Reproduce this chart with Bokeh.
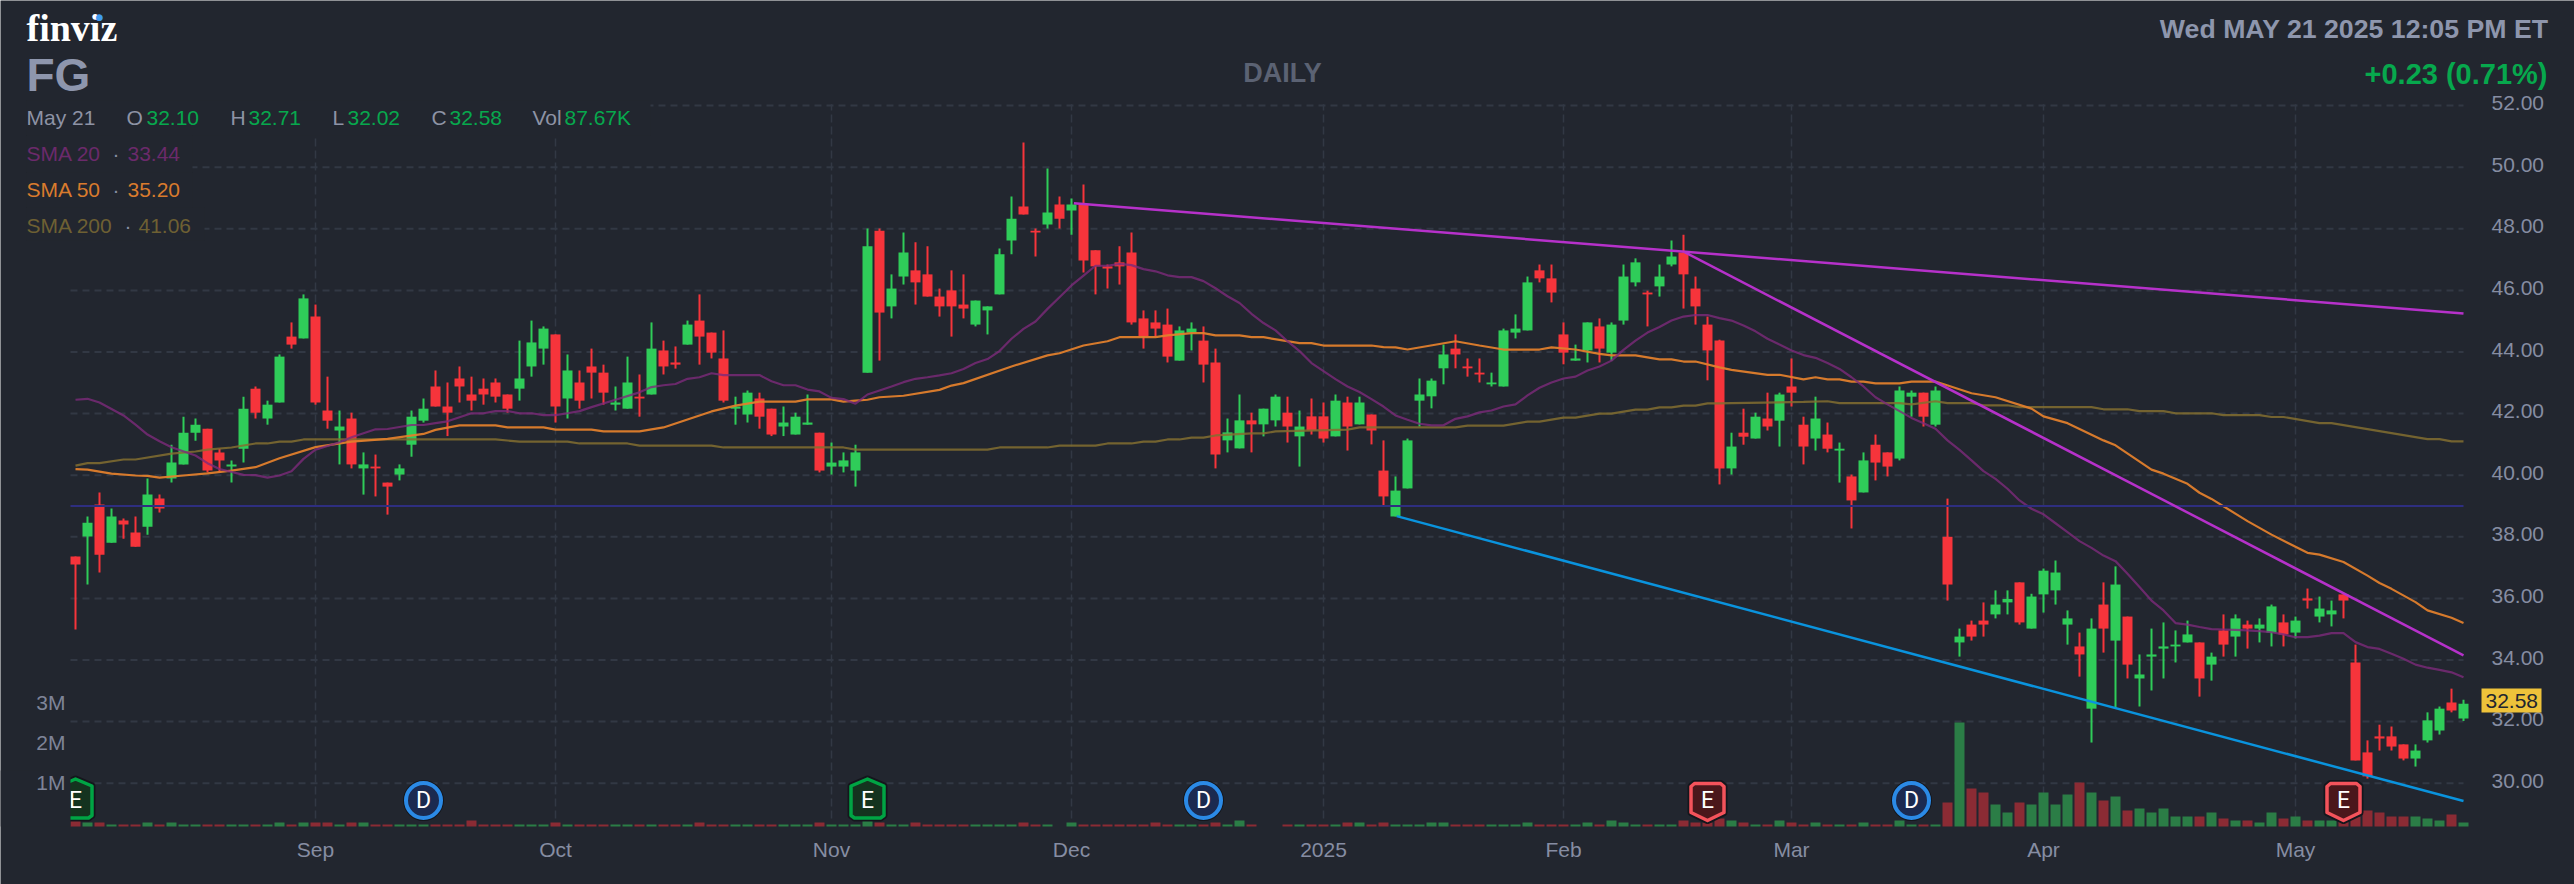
from bokeh.plotting import figure
from bokeh.embed import file_html
from bokeh.resources import INLINE
from bokeh.core.properties import value
from bokeh.models import ColumnDataSource, Range1d, FixedTicker, Label, BoxAnnotation, LinearAxis

highs = [37.36,38.66,39.44,38.92,38.59,38.66,39.89,39.37,40.99,41.90,
41.84,41.51,40.86,40.48,42.55,42.88,42.42,43.92,44.96,45.87,
45.54,43.2,42.10,42.03,40.74,40.67,39.76,40.35,42.10,42.49,
43.40,43.01,43.53,43.2,43.14,43.14,42.62,44.37,45.02,44.83,
44.57,43.92,43.40,44.11,43.59,42.88,43.85,43.27,44.96,44.37,
44.18,45.02,45.87,44.63,44.70,42.55,42.75,42.68,42.16,42.23,
42.03,42.62,41.38,41.06,40.74,40.99,48.01,48.01,46.52,47.88,
47.56,47.43,46.06,46.65,46.52,45.67,45.48,47.36,49.05,50.80,
48.01,49.96,49.05,48.98,49.44,47.3,46.84,47.43,47.88,45.35,
45.35,45.41,44.83,44.96,44.83,44.11,41.84,42.62,42.03,42.16,
42.62,42.55,42.1,42.49,42.36,42.62,42.55,42.55,41.97,41.13,
39.96,41.19,43.14,43.14,44.24,44.57,43.79,43.79,43.33,44.76,
45.22,46.45,46.84,46.84,44.96,44.24,44.96,45.09,44.96,46.84,
47.04,45.99,46.84,47.62,47.81,46.45,45.15,44.4,41.38,42.16,
42.03,42.68,42.68,43.79,41.9,42.55,41.71,41.06,40.02,40.74,
41.32,40.74,42.88,42.75,42.68,42.88,39.24,35.02,35.28,35.87,
36.26,36.26,36.52,36.15,36.97,37.23,35.61,34.89,35.35,36.52,
37.04,35.41,34.18,35.02,35.22,34.96,35.28,34.57,34.24,35.48,
35.48,35.28,35.35,35.8,35.48,35.41,36.32,36.06,35.93,36.13,
34.5,31.39,31.9,31.84,31.26,31.26,32.3,32.49,33.07,32.71]

lows = [34.99,36.45,36.84,37.81,37.94,37.68,38.07,38.79,39.76,40.35,
41.12,40.09,40.09,39.76,40.41,41.84,41.64,42.36,44.11,44.44,
42.29,41.51,40.35,40.22,39.37,39.31,38.72,39.83,40.6,41.71,
42.23,41.27,42.36,42.10,42.29,42.36,42.03,42.42,43.2,43.59,
41.71,41.84,42.16,42.49,42.29,42.10,42.16,41.90,42.62,43.27,
43.46,44.24,43.59,43.79,42.36,41.64,41.71,41.51,41.27,41.27,
41.32,41.64,40.09,40.02,40.09,39.63,43.33,43.72,45.09,46.19,
45.54,45.8,45.15,44.5,45.09,44.83,44.57,45.87,47.17,48.46,
47.1,48.01,48.01,47.81,46.58,45.87,46.06,46.19,44.89,44.11,
44.5,43.66,43.72,44.05,43.01,40.22,40.74,40.87,40.74,41.26,
41.58,41.06,40.28,41.32,41.06,41.26,40.8,41.65,41.0,38.98,
38.66,39.57,41.58,42.17,42.95,43.47,43.2,43.01,42.88,42.88,
44.44,44.7,46.26,45.61,43.6,43.72,43.66,43.66,43.72,44.89,
46.13,44.83,45.8,46.78,45.41,44.89,43.08,39.7,40.02,40.99,
41.19,41.45,40.93,42.23,40.35,40.8,40.74,39.76,38.27,39.44,
39.83,39.96,40.48,41.9,41.58,41.58,35.93,34.11,34.63,34.76,
35.35,35.48,35.15,35.02,35.54,35.8,34.5,33.46,31.32,34.24,
32.42,33.4,32.49,33.01,33.4,33.92,34.57,32.81,33.33,34.11,
34.11,34.37,34.57,34.44,34.44,34.7,35.67,35.22,35.09,35.35,
30.74,30.15,31.06,31.06,30.74,30.54,31.32,31.58,32.3,32.02]

body_tops = [37.36,38.46,39.05,38.66,38.53,38.14,39.37,39.24,40.41,41.38,
41.64,41.51,40.74,40.35,42.16,42.81,42.29,43.85,44.50,45.74,
45.15,42.10,41.58,41.84,40.35,40.28,39.76,40.22,41.90,42.16,
42.88,42.23,43.14,42.62,42.81,43.01,42.62,43.14,44.31,44.76,
44.57,43.40,43.01,43.53,43.33,42.36,43.01,42.55,44.11,44.05,
43.66,44.89,45.02,44.63,43.79,42.23,42.68,42.49,42.16,41.71,
41.90,41.71,41.38,40.41,40.48,40.74,47.43,47.94,46.06,47.23,
46.65,46.52,45.8,46.0,45.54,45.67,45.48,47.17,48.33,48.72,
47.94,48.53,48.79,48.79,48.79,47.3,46.78,46.91,47.23,45.09,
44.96,44.89,44.70,44.76,44.37,43.66,41.39,41.78,41.78,42.16,
42.55,42.03,41.58,41.91,41.91,42.42,42.36,42.36,41.97,40.15,
39.5,41.13,42.62,43.07,43.92,44.11,43.53,43.33,43.01,44.7,
44.76,46.26,46.65,46.39,44.57,43.79,44.96,44.83,44.89,46.45,
46.91,45.93,46.45,47.1,47.23,46.06,44.89,44.37,40.93,41.38,
41.9,41.84,42.62,42.88,41.64,41.84,41.32,40.86,39.96,40.48,
40.99,40.74,42.75,42.68,42.68,42.75,38.0,34.76,35.15,35.28,
35.8,35.98,36.52,36.06,36.9,36.84,35.35,34.44,35.02,35.8,
36.45,35.41,33.53,34.18,34.44,34.5,34.83,34.57,34.11,34.96,
35.35,35.15,35.15,35.74,35.22,35.28,36.0,35.67,35.61,36.13,
33.92,31.0,31.52,31.52,31.26,31.06,32.04,32.42,32.62,32.58]

body_bottoms = [37.10,38.01,37.42,37.81,38.40,37.68,38.33,38.92,39.89,40.35,
41.38,40.15,40.48,40.28,40.86,42.03,41.84,42.36,44.24,44.44,
42.36,41.77,41.45,40.35,40.22,40.22,39.63,40.02,40.99,41.77,
42.23,42.03,42.88,42.42,42.62,42.55,42.16,42.81,43.53,44.11,
42.23,42.49,42.42,43.33,42.68,42.29,42.16,42.49,42.62,43.53,
43.59,44.24,44.5,43.98,42.42,42.16,41.97,41.90,41.32,41.58,
41.32,41.64,40.15,40.28,40.28,40.15,43.33,45.28,45.48,46.45,
46.26,45.8,45.48,45.48,45.41,44.89,45.35,45.87,47.62,48.46,
47.88,48.14,48.33,48.59,46.97,46.78,46.71,46.78,44.96,44.5,
44.76,43.85,43.72,44.63,43.59,40.67,41.13,40.87,41.65,41.65,
41.78,41.58,41.26,41.45,41.19,41.26,41.58,41.65,41.45,39.31,
38.66,39.57,42.42,42.56,43.47,43.92,43.47,43.27,42.95,42.88,
44.63,44.7,46.39,45.93,43.98,43.72,44.05,44.11,43.98,45.02,
46.26,45.87,46.13,46.84,46.52,45.48,44.05,40.22,40.22,41.25,
41.19,41.58,41.77,42.68,40.93,41.19,40.86,40.8,39.18,39.44,
40.41,40.28,40.54,42.55,41.9,41.64,36.45,34.57,34.76,35.15,
35.48,35.87,35.22,35.02,36.13,36.26,35.15,34.18,32.42,35.02,
34.63,33.85,33.4,34.11,34.37,34.44,34.57,33.4,33.85,34.5,
34.76,35.02,35.02,34.89,34.83,34.89,35.93,35.41,35.48,35.93,
30.74,30.22,31.45,31.19,30.8,30.8,31.39,31.71,32.36,32.1]

direction = ("RGRGRRGRGGGRRGGRGGRG" "RRGRGRRGGGRRRRRRRGGG" "RGRRRGGRGRRGRRRGGRRG" "GGRGGGGRGGRRRRRGGGGR"
             "RGRGRRRRRRRRGGRRGGRG" "GRGRRGRGRRGGGGGRRRGG" "GGRRRGGRGGGRGGRRRRGR" "GRGRRGRGRGRRGGRGRGRR"
             "GGRGGGGRGRGRGGGGGRGR" "GRGGRGRGGRRRRRRGGGRG")

# volume in millions of shares
volumes = [.15,.1,.1,.05,.05,.05,.1,.05,.1,.05,
.05,.05,.05,.05,.05,.05,.05,.1,.05,.1,
.1,.1,.05,.1,.1,.05,.05,.05,.05,.05,
.05,.05,.05,.15,.05,.05,.05,.05,.05,.05,
.1,.05,.05,.05,.05,.05,.05,.05,.05,.05,
.05,.05,.1,.05,.05,.05,.05,.05,.05,.05,
.05,.05,.1,.05,.05,.05,.15,.1,.05,.05,
.1,.05,.05,.05,.05,.05,.05,.05,.05,.1,
.05,.05,0,.1,.05,.05,.05,.05,.05,.05,
.1,.05,.05,.05,.05,.1,.05,.15,.05,0,
0,.05,.05,.05,.05,.05,.1,.1,.05,.1,
.05,.05,.05,.1,.1,.05,.05,.05,.05,.05,
.05,.1,.05,.05,.05,.05,.1,.05,.15,.1,
.05,.05,.05,.05,.15,.1,.1,.2,.15,.1,
.05,.05,.15,.1,.05,.1,.05,.05,.05,.1,
.05,.05,.15,.05,.05,.05,.6,2.6,.95,.85,
.55,.35,.6,.55,.85,.55,.8,1.1,.85,.65,
.75,.4,.45,.35,.45,.25,.25,.25,.35,.2,
.15,.15,.1,.35,.2,.25,.15,.15,.15,.15,
.25,.4,.35,.25,.25,.25,.2,.15,.3,.1]

sma20_x = [0,1,2,4,5,6,7,8,10,11,12,14,15,16,17,18,19,20,21,22,23,24,25,26,28,29,30,31,33,34,35,36,37,38,39,40,41,42,43,45,47,48,49,50,51,52,53,54,57,58,59,60,61,62,63,64,65,
66,68,69,70,71,72,73,74,75,76,77,78,79,80,81,82,83,84,85,86,87,88,89,90,91,92,93,94,95,96,97,98,99,100,101,102,103,104,105,106,107,108,109,
110,111,112,113,114,115,116,117,118,119,120,121,122,123,124,125,126,127,128,129,130,131,132,133,134,135,136,137,
138,139,140,141,142,143,144,145,146,147,148,149,150,151,152,153,154,155,156,157,158,159,160,161,162,163,164,165,166,167,168,169,170,171,172,173,
174,175,176,177,178,179,180,181,182,183,184,185,186,187,188,189,190,191,192,193,194,195,196,197,198,199]
sma20_y = [42.45,42.48,42.36,41.94,41.64,41.32,41.10,40.91,40.64,40.39,40.20,40.01,40.0,39.92,39.99,40.13,40.53,40.83,40.95,41.07,41.23,41.36,41.49,41.5,41.63,41.63,41.69,41.75,42.01,42.01,42.08,42.08,42.01,42.01,41.95,41.95,42.01,42.08,42.21,42.45,42.69,42.86,42.92,42.96,43.13,43.18,43.31,43.25,43.25,43.05,42.92,42.92,42.78,42.72,42.51,42.47,42.32,
42.62,42.88,43.02,43.13,43.18,43.24,43.31,43.45,43.64,43.77,44.03,44.43,44.75,44.99,45.40,45.78,46.16,46.48,46.8,46.8,46.86,46.82,46.69,46.62,46.49,46.43,46.43,46.3,46.07,45.81,45.59,45.24,44.94,44.7,44.35,44.03,43.64,43.38,43.12,42.88,42.7,42.47,42.23,
41.94,41.8,41.67,41.62,41.62,41.83,41.91,42.04,42.1,42.23,42.3,42.59,42.84,43.01,43.14,43.2,43.4,43.53,43.72,44.07,44.37,44.63,44.81,45.02,45.15,45.2,45.2,45.1,
45.02,44.86,44.67,44.43,44.24,44.05,43.9,43.81,43.64,43.45,43.18,42.88,42.53,42.3,42.08,41.86,41.69,41.51,41.13,40.82,40.48,40.13,39.88,39.56,39.18,38.91,38.73,38.44,38.15,37.86,37.64,37.39,37.21,36.8,36.37,35.93,
35.61,35.2,35.15,35.07,35.0,34.99,34.98,34.96,34.94,34.9,34.83,34.74,34.74,34.79,34.87,34.87,34.58,34.42,34.36,34.2,34.04,33.85,33.75,33.68,33.6,33.44]

sma50_x = [0,1,3,5,6,7,9,11,13,15,17,20,23,26,29,30,32,35,36,39,40,43,44,47,49,53,55,57,60,61,63,64,65,
66,67,69,72,73,74,78,81,82,84,86,87,90,91,93,94,95,97,98,99,102,103,104,108,109,
110,111,115,117,119,122,123,125,127,128,130,132,133,134,135,137,
138,141,142,144,145,146,147,148,149,150,152,153,155,158,160,163,164,166,169,170,173,174,176,177,178,181,182,183,186,187,189,191,192,193,195,196,198,199]
sma50_y = [40.2,40.18,40.05,39.99,39.98,39.92,39.99,40.06,40.15,40.26,40.55,40.91,41.09,41.18,41.34,41.47,41.62,41.62,41.55,41.55,41.48,41.48,41.42,41.42,41.55,42.07,42.26,42.39,42.39,42.46,42.46,42.39,42.42,
42.45,42.53,42.58,42.77,42.91,42.99,43.53,43.89,43.96,44.21,44.35,44.48,44.48,44.54,44.61,44.61,44.54,44.54,44.48,44.48,44.29,44.29,44.21,44.21,44.16,
44.15,44.08,44.35,44.21,44.08,44.08,44.15,44.08,43.94,43.89,43.89,43.76,43.76,43.69,43.69,43.5,
43.42,43.26,43.26,43.11,43.18,43.11,43.11,43.04,43.04,42.98,42.98,43.04,43.04,42.66,42.53,42.16,41.91,41.69,41.13,40.97,40.18,40.05,39.72,39.43,39.23,38.51,38.29,38.07,37.48,37.42,37.18,36.74,36.5,36.31,35.88,35.61,35.37,35.2]

sma200_x = [0,1,2,4,5,8,10,11,13,15,16,17,18,19,35,37,41,42,46,47,53,54,64,65,
66,76,77,81,82,85,86,88,89,90,91,92,93,94,95,98,99,100,106,107,115,116,119,121,122,124,125,127,128,130,131,132,133,134,135,136,137,
138,144,146,147,152,153,155,156,158,159,161,162,168,169,171,172,174,175,178,179,182,183,184,187,188,196,197,198,199]
sma200_y = [40.31,40.39,40.39,40.51,40.51,40.7,40.77,40.83,40.9,41.03,41.03,41.09,41.09,41.16,41.16,41.09,41.09,41.03,41.03,40.96,40.96,40.9,40.9,40.83,
40.83,40.83,40.9,40.9,40.96,40.96,41.03,41.03,41.09,41.09,41.16,41.16,41.22,41.22,41.29,41.36,41.36,41.42,41.48,41.55,41.55,41.61,41.61,41.74,41.74,41.87,41.87,42.0,42.0,42.13,42.13,42.2,42.2,42.26,42.26,42.33,42.33,
42.34,42.38,42.4,42.34,42.34,42.3,42.4,42.34,42.34,42.27,42.27,42.21,42.21,42.14,42.14,42.08,42.08,42.01,42.01,41.95,41.95,41.89,41.89,41.69,41.69,41.17,41.17,41.1,41.1]

trend_top_x = [83.2, 199]
trend_top_y = [48.83, 45.25]
trend_mid_x = [134.1, 199]
trend_mid_y = [47.24, 34.15]
trend_low_x = [110.1, 199]
trend_low_y = [38.67, 29.42]
level_price = 39.0

price_ticks = [30,32,34,36,38,40,42,44,46,48,50,52]
date_ticks = [20,40,63,83,104,124,143,164,185]
date_labels = ["Sep","Oct","Nov","Dec","2025","Feb","Mar","Apr","May"]
vol_ticks = [1.1, 2.1, 3.1]
vol_labels = ["1M","2M","3M"]
earn_up_x = [0,66]
earn_down_x = [136,189]
dividend_x = [29,94,153]

BG = "#22262f"
GREEN = "#2fcc59"; RED = "#f6343b"
VGREEN = "#2b7d46"; VRED = "#8b2b34"
GRID = "#323844"
TXT = "#868da2"

# the plot frame fills the page; the axes sit at fixed places inside it, so nothing is clipped
XL, XR = -0.4167, 199.4167      # chart area on the page: x=70 to x=2468
YB, YT = 28.594, 52.04          # chart area on the page: y=826 to y=104
X0, X1 = -6.25, 208.25
Y0, Y1 = 26.711, 55.412
PXV = 40.0                      # pixels per million shares

p = figure(width=2574, height=884, output_backend="svg", toolbar_location=None,
           x_range=Range1d(X0, X1), y_range=Range1d(Y0, Y1), x_axis_location=None, y_axis_location=None,
           min_border_left=0, min_border_right=0, min_border_top=0, min_border_bottom=0,
           background_fill_color=BG, border_fill_color=BG, outline_line_color=None)
p.extra_y_ranges = {"vol": Range1d(-58 / PXV, 826 / PXV)}
p.grid.visible = False

def plain_axis(side, ticks, names, color, location, standoff, **kw):
    ax = LinearAxis(ticker=FixedTicker(ticks=ticks), major_label_overrides=dict(zip(ticks, names)),
                    axis_line_color=None, major_tick_line_color=None, minor_tick_line_color=None,
                    major_label_text_color=color, major_label_text_font="Liberation Sans",
                    major_label_text_font_size="21px", major_label_standoff=standoff,
                    fixed_location=location, **kw)
    p.add_layout(ax, side)

label_ticks = [t + 0.08 for t in price_ticks]
plain_axis("right", label_ticks, [f"{t}.00" for t in price_ticks], TXT, XR, 17)
plain_axis("below", date_ticks, date_labels, TXT, YB, 5)
plain_axis("left", vol_ticks, vol_labels, "#7e8498", XL + 0.0833, 0, y_range_name="vol", level="overlay")

# grid
n = len(price_ticks)
p.segment([XL]*n, price_ticks, [199]*n, price_ticks, line_color=GRID, line_width=2, line_dash="7 5", level="underlay")
m = len(date_ticks)
p.segment(date_ticks, [28.85]*m, date_ticks, [YT]*m, line_color=GRID, line_width=1.5, line_dash="8 4", level="underlay")

xs = list(range(len(highs)))
opens = [b if d == "G" else t for t, b, d in zip(body_tops, body_bottoms, direction)]
closes = [t if d == "G" else b for t, b, d in zip(body_tops, body_bottoms, direction)]
src = ColumnDataSource(dict(x=xs, o=opens, h=highs, l=lows, c=closes, top=body_tops, bot=body_bottoms, vol=volumes,
                            col=[GREEN if d == "G" else RED for d in direction],
                            vcol=[VGREEN if d == "G" else VRED for d in direction]))

p.vbar(x="x", top="vol", bottom=0, width=10/12, fill_color="vcol", line_color=None, source=src, y_range_name="vol")
p.segment(x0="x", y0="l", x1="x", y1="h", line_color="col", line_width=2, source=src)
p.vbar(x="x", top="top", bottom="bot", width=10/12, fill_color="col", line_color=None, source=src)

p.line(sma200_x, sma200_y, line_color="#836e30", line_width=2.2, line_alpha=0.85)
p.line(sma50_x, sma50_y, line_color="#e07e2c", line_width=2.2, line_alpha=0.95)
p.line(sma20_x, sma20_y, line_color="#7d2b7a", line_width=2.2, line_alpha=0.8)
p.line([XL, 199], [level_price, level_price], line_color="#2e2e80", line_width=2)
p.line(trend_top_x, trend_top_y, line_color="#b631ca", line_width=2.5)
p.line(trend_mid_x, trend_mid_y, line_color="#b631ca", line_width=2.5)
p.line(trend_low_x, trend_low_y, line_color="#0a93dd", line_width=2.5)

# event markers: shapes in pixels around a centre, converted through the chart's scales
CY = (826 - 800) / PXV
def shape(cx, pts):
    return [cx + dx / 12 for dx, _ in pts], [CY - dy / PXV for _, dy in pts]
UP = [(-16.5,-14.5),(0,-21.5),(16.5,-14.5),(16.5,15),(13,17.5),(-13,17.5),(-16.5,15)]
DN = [(-16.5,-14),(-13,-17),(13,-17),(16.5,-14),(16.5,12),(0,20),(-16.5,12)]
for lst, pts, fill, edge in ((earn_up_x, UP, "#14331f", "#00a444"), (earn_down_x, DN, "#4b171b", "#f4535b")):
    shapes = [shape(c, pts) for c in lst]
    p.patches([s[0] for s in shapes], [s[1] for s in shapes], fill_color=None, line_color="#14161c",
              line_width=7, line_join="round", y_range_name="vol")
    p.patches([s[0] for s in shapes], [s[1] for s in shapes], fill_color=fill, line_color=edge,
              line_width=3.5, line_join="round", y_range_name="vol")
    p.text(lst, [CY]*len(lst), text=["E"]*len(lst), text_color="white", text_font=value("Roboto"),
           text_font_size="23px", text_align="center", text_baseline="middle", y_range_name="vol")
nd = len(dividend_x)
p.scatter(dividend_x, [CY]*nd, marker="circle", size=41, fill_color="#14161c", line_color=None, y_range_name="vol")
p.scatter(dividend_x, [CY]*nd, marker="circle", size=35, fill_color="#1b2a50", line_color="#2b8ae6", line_width=4, y_range_name="vol")
p.text(dividend_x, [CY]*nd, text=["D"]*nd, text_color="white", text_font=value("Roboto"),
       text_font_size="23px", text_align="center", text_baseline="middle", y_range_name="vol")

# header and legend: positions are page pixels
def box(x0, y0, x1, y1, color=BG):
    p.add_layout(BoxAnnotation(left=x0, right=x1, top=y0, bottom=y1, left_units="canvas", right_units="canvas",
                               top_units="canvas", bottom_units="canvas", fill_color=color, fill_alpha=1,
                               line_color=None, level="annotation"))
def label(text, x, y, color, size=21, bold=False, align="left", font="Liberation Sans"):
    p.add_layout(Label(x=x, y=y, x_units="canvas", y_units="canvas", text=text, text_color=color,
                       text_font=font, text_font_size=f"{size}px", text_font_style="bold" if bold else "normal",
                       text_align=align, text_baseline="middle", level="annotation"))

box(0, 770, 70, 826)           # cuts the first earnings flag off at the chart's left edge
box(26, 100, 650, 135)
box(26, 135, 192, 172)
box(26, 172, 192, 207)
box(26, 207, 204, 240)

label("finviz", 26, 27, "white", size=38, bold=True, font="Liberation Serif")
label("\u25cf", 95, 16, "#3f9bf0", size=9, font="DejaVu Sans")
label("FG", 26, 74, "#8e96ad", size=46, bold=True)
label("DAILY", 1282, 72, "#5b6273", size=27, bold=True, align="center")
label("Wed MAY 21 2025 12:05 PM ET", 2548, 28, "#8e96ad", size=26.7, bold=True, align="right")
label("+0.23 (0.71%)", 2547, 73, "#07a84d", size=29, bold=True, align="right")

GREY = "#8e93a5"; UPTXT = "#07a84d"
for t, x, c in (("May 21",26,GREY),("O",126,GREY),("32.10",146,UPTXT),("H",230,GREY),("32.71",248,UPTXT),
                ("L",332,GREY),("32.02",347,UPTXT),("C",431,GREY),("32.58",449,UPTXT),("Vol",532,GREY),("87.67K",564,UPTXT)):
    label(t, x, 117, c)
for t, x, y, c in (("SMA 20",26,153,"#6b2a6b"),("\u00b7",112,153,"#868da2"),("33.44",127,153,"#6b2a6b"),
                   ("SMA 50",26,189,"#d97b2d"),("\u00b7",112,189,"#868da2"),("35.20",127,189,"#d97b2d"),
                   ("SMA 200",26,225,"#6e6033"),("\u00b7",124,225,"#868da2"),("41.06",138,225,"#6e6033")):
    label(t, x, y, c)

box(2481, 688, 2541, 712, "#eec23a")
label("32.58", 2485, 700, "#22262f")

open("out.html", "w").write(file_html(p, INLINE))
